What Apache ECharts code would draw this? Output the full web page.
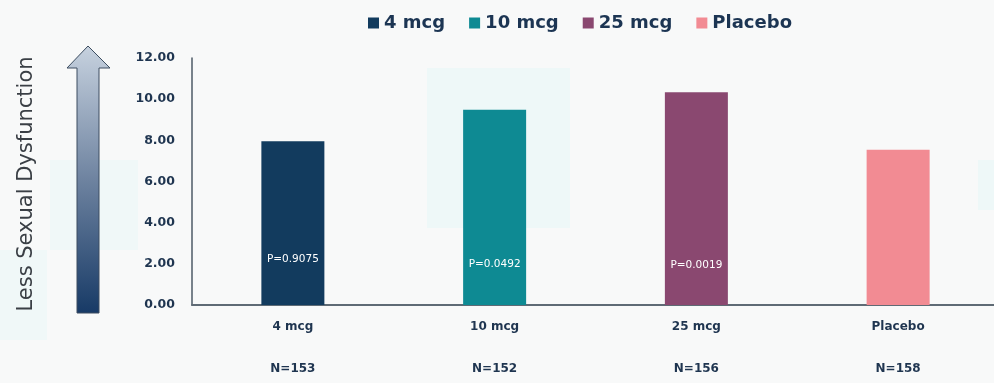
<!DOCTYPE html>
<html>
<head>
<meta charset="utf-8">
<script src="https://cdn.jsdelivr.net/npm/echarts@6/dist/echarts.min.js"></script>
<style>
  html, body { margin: 0; padding: 0; background: #f8f9f9; }
  #chart { width: 994px; height: 383px; }
</style>
</head>
<body>
<div id="chart"></div>
<script>
const categories = ['4 mcg', '10 mcg', '25 mcg', 'Placebo']
const sampleSizes = ['N=153', 'N=152', 'N=156', 'N=158']
const scores = [7.95, 9.48, 10.33, 7.54]
const pValues = ['P=0.9075', 'P=0.0492', 'P=0.0019', '']
const yTicks = [0, 2, 4, 6, 8, 10, 12]

const colors = ['#123b5e', '#0e8a93', '#8a4870', '#f28b93']
// how far up from the bar base each p-value sits
const pLift = [40, 35, 34, 0]

const chart = echarts.init(document.getElementById('chart'))

const series = categories.map((name, i) => ({
    name: name,
    type: 'bar',
    barWidth: 63,
    barGap: '-100%',
    itemStyle: { color: colors[i] },
    label: {
        show: pValues[i] !== '',
        position: 'insideBottom',
        distance: pLift[i],
        formatter: () => pValues[i],
        color: '#ffffff',
        fontFamily: 'DejaVu Sans',
        fontSize: 10.5
    },
    data: categories.map((c, j) => (j === i ? scores[i] : '-'))
}))

const option = {
    animation: false,
    backgroundColor: '#f8f9f9',
    legend: {
        data: categories,
        top: 9,
        left: 363,
        icon: 'rect',
        itemWidth: 11,
        itemHeight: 11,
        itemGap: 24,
        textStyle: {
            fontFamily: 'DejaVu Sans',
            fontWeight: 'bold',
            fontSize: 18,
            color: '#1c3553'
        }
    },
    grid: {
        left: 192,
        right: -5,
        top: 58,
        bottom: 78,
        outerBoundsMode: 'none'
    },
    xAxis: {
        type: 'category',
        data: categories,
        axisLine: { lineStyle: { color: '#5f6b75', width: 2 } },
        axisTick: { show: false },
        axisLabel: {
            margin: 11,
            interval: 0,
            lineHeight: 21,
            fontFamily: 'DejaVu Sans',
            fontWeight: 'bold',
            fontSize: 12,
            color: '#1f3550',
            formatter: (v, i) => v + '\n\n' + sampleSizes[i]
        }
    },
    yAxis: {
        type: 'value',
        min: yTicks[0],
        max: yTicks[yTicks.length - 1],
        interval: 2,
        axisLine: { show: true, lineStyle: { color: '#4e5a66', width: 1.5 } },
        axisTick: { show: false },
        splitLine: { show: false },
        axisLabel: {
            margin: 17,
            fontFamily: 'DejaVu Sans',
            fontWeight: 'bold',
            fontSize: 12.5,
            color: '#1f3550',
            formatter: v => v.toFixed(2)
        }
    },
    graphic: [
        // faint background blotches of the source slide
        { type: 'rect', z: -10, shape: { x: 427, y: 68, width: 143, height: 160 }, style: { fill: '#eef8f8' } },
        { type: 'rect', z: -10, shape: { x: 50, y: 160, width: 88, height: 90 }, style: { fill: '#f0f8f8' } },
        { type: 'rect', z: -10, shape: { x: 0, y: 250, width: 47, height: 90 }, style: { fill: '#f0f8f8' } },
        { type: 'rect', z: -10, shape: { x: 978, y: 160, width: 16, height: 50 }, style: { fill: '#eef8f8' } },
        {
            type: 'text',
            x: 27,
            y: 184,
            rotation: Math.PI / 2,
            style: {
                text: 'Less Sexual Dysfunction',
                fontFamily: 'DejaVu Sans',
                fontSize: 21,
                fill: '#3a3f45',
                align: 'center',
                verticalAlign: 'middle'
            }
        },
        {
            type: 'polygon',
            shape: {
                points: [[88, 46], [110, 68], [99, 68], [99, 313], [77, 313], [77, 68], [67, 68]]
            },
            style: {
                fill: new echarts.graphic.LinearGradient(0, 0, 0, 1, [
                    { offset: 0, color: '#c7d2df' },
                    { offset: 0.5, color: '#6e83a0' },
                    { offset: 1, color: '#173a66' }
                ]),
                stroke: '#3c4d60',
                lineWidth: 1
            }
        }
    ],
    series: series
}

chart.setOption(option)
</script>
</body>
</html>
